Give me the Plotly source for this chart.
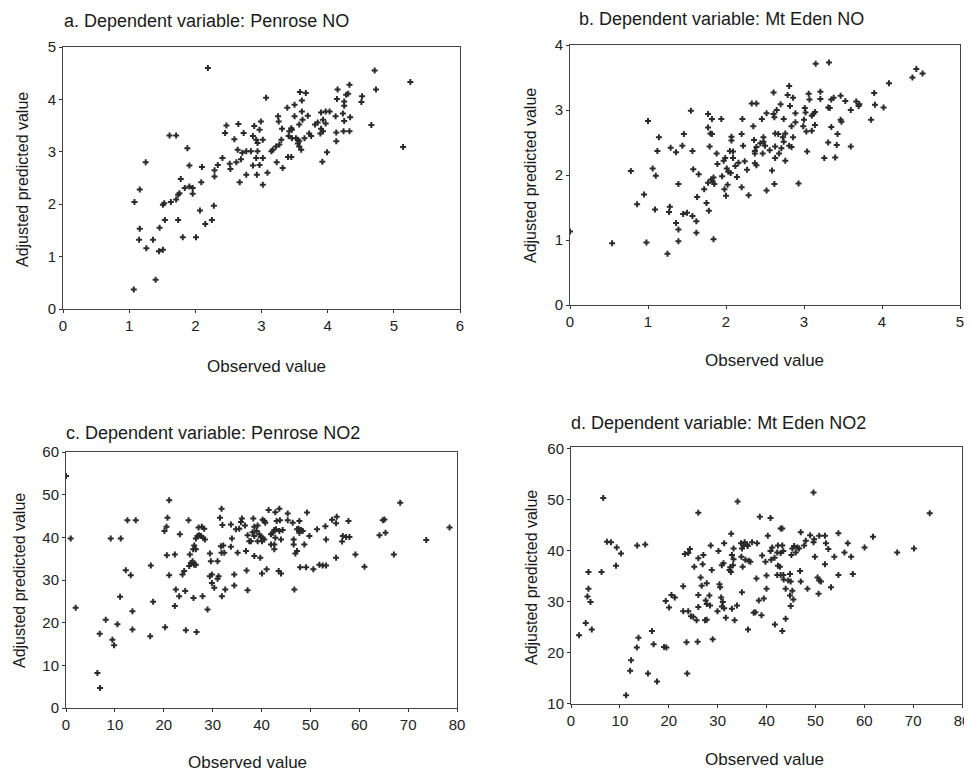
import plotly.graph_objects as go

# ---------------- data (observed, adjusted predicted) ----------------
a_obs = [1.16,1.08,1.25,1.16,1.15,1.26,1.07,1.40,1.36,1.45,1.51,1.46,1.54,1.51,1.53,1.63,1.71,1.74,1.76,1.74,1.81,2.01,1.78,1.84,1.91,1.96,1.96,2.09,2.07,2.15,2.25,2.28,1.61,1.71,1.88,1.91,2.10,2.19,2.29,2.29,2.34,2.41,2.52,2.53,2.62,2.69,2.71,2.47,2.45,2.65,2.59,2.73,2.64,2.77,2.84,2.94,2.87,2.92,2.97,2.99,2.89,3.02,2.94,2.77,2.93,3.02,3.09,2.67,2.87,2.97,3.02,2.92,3.07,
         3.15,3.17,3.22,3.27,3.30,3.25,3.26,3.31,3.23,3.32,3.40,3.45,3.39,3.50,3.50,3.61,3.61,3.58,3.67,3.70,3.62,3.57,3.45,3.42,3.46,3.41,3.46,3.52,3.55,3.57,3.65,3.75,3.72,3.55,3.57,3.60,3.85,3.81,3.93,3.97,3.90,3.93,3.89,3.97,4.03,3.90,4.12,4.23,4.34,4.25,4.13,4.24,4.33,4.13,3.99,3.92,4.15,4.28,4.31,4.14,4.25,4.25,4.52,4.51,4.33,4.66,4.71,4.73,5.14,5.25]
a_pred = [2.28,2.04,2.80,1.53,1.32,1.16,0.37,0.56,1.32,1.10,1.13,1.55,1.70,1.99,2.02,2.04,2.09,2.18,2.21,1.70,1.37,1.37,2.48,2.31,2.34,2.31,2.20,2.42,1.88,1.62,1.70,1.97,3.31,3.31,3.07,2.74,2.71,4.60,2.65,2.53,2.75,2.88,2.77,2.67,2.80,2.86,2.98,3.50,3.36,3.53,3.24,3.36,3.04,3.01,3.01,3.01,3.30,3.23,3.42,3.58,3.49,3.23,3.17,2.56,2.56,2.37,2.60,2.42,2.74,2.75,2.88,2.88,4.03,
          3.01,3.04,3.10,3.14,3.23,3.68,3.58,3.44,2.80,2.69,2.90,2.90,3.84,3.90,3.68,3.98,3.77,4.14,4.12,3.69,3.61,3.52,3.45,3.39,3.42,3.30,3.26,3.26,3.23,3.20,3.26,3.30,3.35,3.16,3.10,3.04,3.56,3.52,3.61,3.54,3.44,3.39,3.35,3.77,3.77,3.75,3.68,3.73,3.66,3.59,3.37,3.39,3.39,3.20,2.99,2.81,4.19,4.09,4.11,4.01,3.96,3.88,4.06,3.95,4.28,3.51,4.55,4.19,3.09,4.33]

b_obs = [0.00,0.54,0.98,1.25,1.39,1.84,0.78,0.86,0.95,1.00,1.06,1.10,1.09,1.14,1.12,1.29,1.36,1.44,1.46,1.39,1.28,1.27,1.45,1.50,1.36,1.39,1.57,1.62,1.62,1.55,1.57,1.58,1.65,1.63,1.75,1.78,1.72,1.77,1.82,
         1.77,1.80,1.82,1.79,1.81,1.83,1.77,1.84,1.85,1.88,1.89,1.94,1.95,1.97,1.99,1.98,2.00,2.02,2.01,2.03,2.06,2.07,2.07,2.05,2.09,2.09,2.12,2.16,2.14,2.20,2.21,2.20,2.22,2.24,2.27,2.29,2.33,2.35,2.36,2.37,
         3.15,3.32,4.44,4.39,4.52,4.09,2.61,2.81,2.79,3.06,3.07,3.21,3.21,3.35,3.38,3.47,3.53,3.67,3.71,3.70,3.60,3.90,3.91,4.02,3.86,3.47,3.48,3.31,3.33,
         3.01,3.02,3.14,3.12,3.00,3.10,2.99,3.03,3.10,3.14,3.35,3.43,3.42,3.31,3.60,3.26,3.40,3.04,2.93,2.86,2.70,2.65,2.74,2.82,2.89,2.61,2.62,2.52,2.46,2.39,2.84,2.89,2.76,2.63,2.67,2.73,2.86,2.81,2.84,2.74,2.71,2.68,2.63,2.56,2.50,2.48,2.48,2.47,2.44,2.63,2.76,2.59,2.62,2.52,2.39,2.37,2.39,2.37]
b_pred = [1.13,0.95,0.96,0.79,0.98,1.01,2.06,1.55,1.70,2.83,2.10,1.99,1.47,2.58,2.37,2.42,2.35,2.45,2.63,1.86,1.51,1.43,1.40,1.42,1.26,1.16,1.37,1.29,1.11,2.99,2.37,2.09,2.01,1.66,1.57,1.45,1.78,2.94,2.86,
          2.73,2.64,2.63,2.44,1.93,1.90,1.88,1.96,1.86,2.33,2.17,2.86,1.98,2.22,2.26,1.78,1.68,1.85,2.10,2.05,2.03,2.59,2.53,2.37,2.36,2.26,2.14,2.19,1.97,1.81,2.86,2.63,2.45,2.21,2.08,1.69,3.10,2.75,2.54,2.37,
          3.71,3.73,3.63,3.50,3.56,3.41,3.27,3.37,3.23,3.25,3.16,3.28,3.17,3.16,3.19,3.22,3.14,3.13,3.09,3.06,3.00,3.26,3.08,3.04,2.85,2.85,2.82,3.04,3.03,
          3.03,2.96,2.97,2.94,2.85,2.91,2.75,2.67,2.68,2.77,2.74,2.63,2.46,2.50,2.44,2.26,2.27,2.36,1.87,3.19,3.09,3.00,2.86,3.06,2.95,2.94,2.89,2.95,2.86,3.10,2.75,2.81,2.64,2.64,2.63,2.58,2.58,2.45,2.43,2.51,2.41,2.33,2.44,2.38,2.45,2.51,2.58,2.33,2.49,2.26,2.22,2.07,1.86,1.76,2.43,2.33,2.15,2.18]

c_obs = [0.0,0.96,1.98,6.42,6.97,6.90,8.13,9.49,9.84,9.15,10.52,11.07,11.20,12.23,12.57,14.28,13.25,13.59,13.59,17.23,17.35,17.83,20.29,21.11,20.15,20.56,20.77,20.63,21.11,22.27,22.27,22.47,23.16,23.29,
         23.84,24.18,25.20,25.55,24.39,24.52,25.07,25.34,26.02,26.23,26.57,25.89,26.23,26.57,26.09,26.71,26.57,26.91,27.25,27.12,27.80,28.28,27.60,28.07,28.42,27.94,28.96,29.44,29.64,
         29.44,29.85,31.22,31.01,29.85,30.33,31.01,31.50,31.83,32.00,31.69,32.17,32.38,31.83,31.90,32.58,33.74,33.95,33.74,34.43,34.43,34.77,35.45,36.00,35.79,35.11,36.82,36.95,37.16,37.16,37.50,36.61,
         38.32,38.52,39.21,38.18,39.00,38.52,37.84,40.57,40.23,40.78,41.46,42.83,43.65,43.10,43.78,45.36,45.36,46.38,47.75,39.55,40.23,39.89,40.57,39.21,40.10,41.94,42.28,42.62,42.96,43.65,44.33,43.99,42.83,
         41.94,42.62,42.62,38.52,39.75,40.10,41.05,43.51,43.99,46.58,46.58,47.27,47.61,48.09,48.43,47.75,48.77,49.80,47.27,46.93,47.90,49.12,50.61,51.84,52.53,53.21,46.72,49.32,51.37,53.07,53.21,54.44,
         55.39,55.26,57.79,55.26,56.63,57.31,57.99,56.49,59.22,61.07,64.14,64.82,65.16,65.37,67.08,68.38,73.71,78.48]
c_pred = [54.4,39.7,23.5,8.2,4.7,17.4,20.7,16.0,14.7,39.7,19.6,26.1,39.7,32.3,44.0,44.0,31.1,22.7,18.4,16.8,33.4,24.9,18.9,48.7,41.5,42.5,44.6,35.8,31.1,36.0,23.9,27.8,26.2,40.7,
          31.3,32.1,33.3,34.0,27.4,18.2,44.0,36.0,37.2,38.1,37.2,34.4,33.6,33.6,25.8,17.8,39.7,40.3,40.5,42.3,42.5,42.0,40.3,39.9,39.5,26.2,23.1,36.2,34.4,
          30.9,31.3,30.9,30.3,29.3,28.2,34.4,44.6,46.7,42.9,37.9,38.1,36.4,36.4,26.2,27.8,43.0,39.7,37.8,31.3,28.7,41.9,42.0,44.4,43.6,36.4,36.8,32.2,27.6,40.5,39.1,42.8,
          44.4,42.5,42.8,41.2,41.5,40.3,39.1,43.8,44.1,43.4,46.4,45.9,46.7,43.8,44.0,45.6,44.0,43.4,43.8,40.7,39.9,40.1,39.5,39.1,39.1,40.7,41.1,41.7,41.9,41.5,41.7,39.5,39.9,
          38.3,38.3,37.2,35.6,35.2,31.5,32.5,32.1,31.5,39.5,38.3,41.9,42.0,41.7,41.5,41.1,38.3,40.3,36.8,36.2,33.0,33.0,32.5,33.6,33.4,33.4,27.8,45.8,41.9,42.6,39.5,44.1,
          44.8,43.3,43.8,35.2,40.3,40.1,40.1,39.0,36.0,33.1,40.5,44.0,44.2,41.1,36.0,48.1,39.4,42.3]

d_obs = [1.65,3.02,4.26,3.37,3.57,3.99,3.57,6.25,6.60,7.35,8.18,9.35,10.24,9.21,13.54,15.19,11.27,12.10,12.30,13.47,13.81,15.74,16.56,16.90,17.59,19.04,19.52,19.38,20.07,20.55,21.24,22.96,
         23.30,23.99,24.33,22.96,23.99,23.64,23.78,24.54,25.02,25.22,26.05,26.05,26.05,26.05,25.70,25.91,26.53,26.94,26.74,27.08,27.56,27.42,27.77,27.77,27.77,28.59,28.80,28.32,28.45,28.99,
         29.97,30.17,30.38,30.52,30.86,31.20,30.72,31.07,30.86,31.34,31.34,31.68,32.78,32.92,33.26,32.44,32.58,32.71,33.13,33.26,32.92,33.95,33.47,34.09,34.78,34.98,35.33,35.53,36.01,36.15,34.85,35.12,34.98,35.67,36.36,36.22,
         49.62,38.63,40.82,73.40,70.17,66.74,61.79,60.07,54.71,56.63,55.95,57.32,53.88,57.66,54.71,51.96,52.65,52.16,50.79,49.76,49.62,48.93,48.04,47.70,47.01,46.67,46.32,45.64,45.29,45.98,45.09,
         42.89,43.23,43.23,43.44,42.89,42.34,42.20,41.65,41.17,40.82,40.96,40.27,39.79,39.11,38.08,37.04,36.70,42.34,42.75,42.89,42.20,43.44,44.81,43.51,44.47,44.95,46.87,49.90,51.96,50.45,50.79,51.13,53.19,50.65,
         47.01,48.38,37.94,40.00,43.92,45.29,44.81,45.50,44.95,39.45,38.42,40.00,37.73,37.39,38.97,41.72,43.92,43.23]
d_pred = [23.4,25.8,24.5,31.0,32.5,29.9,35.8,35.8,50.3,41.7,41.6,40.6,39.4,37.0,41.0,41.2,11.6,16.4,18.5,21.0,22.9,15.9,24.2,21.6,14.3,21.1,21.0,30.1,28.8,31.3,30.8,33.0,
          39.3,39.5,40.3,28.1,28.1,22.0,15.9,27.1,27.0,36.8,47.4,38.5,31.3,28.9,26.3,22.1,34.7,37.3,33.1,39.1,30.2,26.3,26.4,33.6,29.5,41.0,36.2,31.2,29.2,22.6,
          28.1,39.9,33.4,32.8,37.1,37.5,30.8,29.9,29.0,28.7,41.4,26.8,43.3,39.1,40.4,36.2,36.7,35.8,37.1,38.3,28.6,29.2,26.3,49.6,41.4,40.4,41.0,41.6,41.2,40.9,38.8,36.8,31.8,38.2,38.0,24.5,
          51.4,46.6,46.4,47.3,40.4,39.6,42.7,40.6,43.4,41.4,39.6,38.8,38.8,35.4,35.2,42.9,40.3,41.4,42.9,42.2,41.6,43.0,41.9,41.0,43.6,40.4,40.6,40.9,40.4,39.6,39.1,
          44.3,44.3,41.0,39.9,39.5,41.0,39.6,38.6,40.6,39.9,38.2,42.9,37.8,39.0,41.4,41.6,37.8,37.0,36.8,35.2,35.2,35.2,35.4,34.3,34.1,33.9,36.0,38.8,37.3,34.7,34.1,33.9,32.8,31.5,
          33.9,32.5,34.5,35.1,32.5,32.1,31.2,30.4,29.1,30.6,30.2,32.5,27.9,27.8,27.3,25.5,26.6,24.2]

titles = ["a. Dependent variable: Penrose NO", "b. Dependent variable: Mt Eden NO",
          "c. Dependent variable: Penrose NO2", "d. Dependent variable: Mt Eden NO2"]
x_title = "Observed value"
y_title = "Adjusted predicted value"

x_ticks = [[0, 1, 2, 3, 4, 5, 6], [0, 1, 2, 3, 4, 5],
           [0, 10, 20, 30, 40, 50, 60, 70, 80], [0, 10, 20, 30, 40, 50, 60, 70, 80]]
y_ticks = [[0, 1, 2, 3, 4, 5], [0, 1, 2, 3, 4],
           [0, 10, 20, 30, 40, 50, 60], [10, 20, 30, 40, 50, 60]]

# ---------------- layout helpers ----------------
OFF = 8                      # page body margin of the browser
W, H = 972 - OFF, 774 - OFF  # figure size so the page fits the window exactly
FONT = "Liberation Sans, Arial, sans-serif"
# plot-area boxes in window pixels: (left, right, top, bottom)
boxes = [(63, 460, 47, 309), (570, 960, 45, 305), (66, 457, 452, 708), (571, 962, 447, 704)]
x_ranges = [[0, 6], [0, 5], [0, 80], [0, 80]]
y_ranges = [[0, 5], [0, 4], [0, 60], [9.9, 60.3]]
title_pos = [(62, 21), (577, 19), (64, 433), (569, 423)]
xt_pos = [(266, 366), (764, 360), (247, 762), (764, 759)]
yt_pos = [(22, 180), (530, 176), (19, 581), (531, 578)]


def fx(px):
    return (px - OFF) / W


def fy(py):
    return 1 - (py - OFF) / H


series = [(a_obs, a_pred), (b_obs, b_pred), (c_obs, c_pred), (d_obs, d_pred)]

fig = go.Figure()
layout = dict(template="none", width=W, height=H, margin=dict(l=0, r=0, t=0, b=0, pad=0),
              autosize=False,
              paper_bgcolor="white", plot_bgcolor="white", showlegend=False,
              font=dict(family=FONT, color="#222", size=15))
annotations = []
for i, ((xs, ys), (l, r, t, b)) in enumerate(zip(series, boxes)):
    n = "" if i == 0 else str(i + 1)
    fig.add_trace(go.Scatter(x=xs, y=ys, mode="markers", xaxis="x" + n, yaxis="y" + n,
                             marker=dict(symbol="cross", size=5, color="#2a2a2a",
                                         line=dict(width=0))))
    ax = dict(showline=True, mirror=True, linecolor="#444", linewidth=1, showgrid=False,
              zeroline=False, ticks="outside", ticklen=3, tickcolor="#333", automargin=False,
              tickfont=dict(family=FONT, size=15, color="#222"))
    layout["xaxis" + n] = dict(ax, domain=[fx(l), fx(r)], range=x_ranges[i],
                               tickvals=x_ticks[i], anchor="y" + n)
    layout["yaxis" + n] = dict(ax, domain=[fy(b), fy(t)], range=y_ranges[i],
                               tickvals=y_ticks[i], anchor="x" + n)
    tx, ty = title_pos[i]
    annotations.append(dict(text=titles[i], x=fx(tx), y=fy(ty), xref="paper", yref="paper",
                            xanchor="left", yanchor="middle", showarrow=False,
                            font=dict(family=FONT, size=18, color="#1a1a1a")))
    xx, xy = xt_pos[i]
    annotations.append(dict(text=x_title, x=fx(xx), y=fy(xy), xref="paper", yref="paper",
                            xanchor="center", yanchor="middle", showarrow=False,
                            font=dict(family=FONT, size=17, color="#1a1a1a")))
    yx, yy = yt_pos[i]
    annotations.append(dict(text=y_title, x=fx(yx), y=fy(yy), xref="paper", yref="paper",
                            xanchor="center", yanchor="middle", showarrow=False, textangle=-90,
                            font=dict(family=FONT, size=16, color="#1a1a1a")))
layout["annotations"] = annotations
fig.update_layout(**layout)
fig.write_html("out.html")
